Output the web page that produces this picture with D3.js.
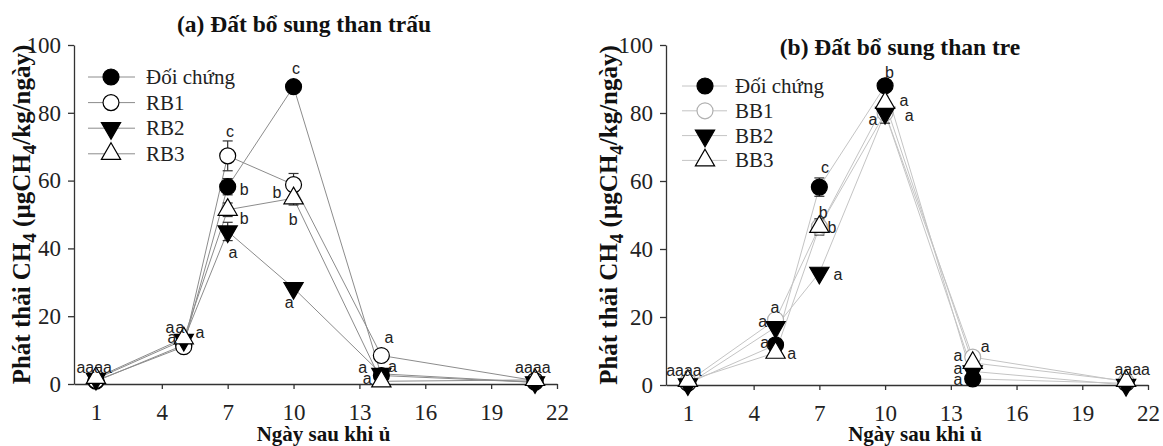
<!DOCTYPE html>
<meta charset="utf-8">
<script src="https://d3js.org/d3.v7.min.js"></script>
<style>
body {margin: 0; background: #fff;}
.axis path, .axis line {stroke: #333; stroke-width: 1.3;}
.title, .ylab, .xlab {font-family: "Liberation Serif", "Times New Roman", serif; font-weight: bold; fill: #111;}
.title {font-size: 23.5px;}
.xlab {font-size: 21px;}
.ylab {font-size: 25px;}
.legend text {font-family: "Liberation Serif", "Times New Roman", serif; font-size: 21px; fill: #222;}
.letter {font-family: "Liberation Sans", Arial, sans-serif; font-size: 16px; fill: #222; text-anchor: middle; dominant-baseline: central;}
</style>
<svg width="1163" height="446"></svg>
<script>
// ngày sau khi ủ
var days = [1, 5, 7, 10, 14, 21];
var xTicks = [1, 4, 7, 10, 13, 16, 19, 22];
var yTicks = [0, 20, 40, 60, 80, 100];

// (a) than trấu
var namesA = ["Đối chứng", "RB1", "RB2", "RB3"];
var dcA  = [0.8, 11.5, 58.2, 87.7, 2.5, 0.5];
var rb1  = [1.0, 11.0, 67.3, 58.8, 8.4, 1.0];
var rb2  = [1.5, 13.0, 45.0, 28.3, 3.0, 0.5];
var rb3  = [1.8, 13.5, 51.4, 54.8, 0.8, 1.2];
var dcAErr  = [0.3, 0.5, 2.4, 1.0, 0.3, 0.2];
var rb1Err  = [0.3, 0.8, 4.4, 3.3, 0.5, 0.2];
var rb2Err  = [0.2, 0.5, 2.7, 1.0, 0.3, 0.1];
var rb3Err  = [0.3, 0.5, 2.0, 2.0, 0.2, 0.2];
var lettersA = [
  {t: "aaaa", x: 0.92, y: 5},
  {t: "a", x: 4.37, y: 16.8}, {t: "a", x: 4.83, y: 16.8}, {t: "a", x: 4.46, y: 13.6}, {t: "a", x: 5.74, y: 15.3},
  {t: "c", x: 7.1, y: 74.6}, {t: "b", x: 7.75, y: 57.5}, {t: "b", x: 7.75, y: 48.7}, {t: "a", x: 7.24, y: 38.9},
  {t: "c", x: 10.11, y: 93.2}, {t: "b", x: 9.24, y: 56.6}, {t: "b", x: 9.99, y: 48.4}, {t: "a", x: 9.8, y: 23.9},
  {t: "a", x: 14.35, y: 13.6}, {t: "a", x: 13.15, y: 4.8}, {t: "a", x: 14.5, y: 5.1}, {t: "a", x: 13.35, y: 1.6},
  {t: "aaaa", x: 20.9, y: 5}
];

// (b) than tre
var namesB = ["Đối chứng", "BB1", "BB2", "BB3"];
var dcB  = [0.5, 11.8, 58.2, 88.0, 1.8, 0.5];
var bb1  = [1.0, 19.2, 46.5, 80.0, 8.2, 1.0];
var bb2  = [0.2, 17.0, 33.0, 80.0, 4.0, 0.0];
var bb3  = [1.2, 9.5, 46.5, 83.0, 6.5, 1.2];
var dcBErr  = [0.2, 1.0, 2.7, 0.8, 0.5, 0.2];
var bb1Err  = [0.3, 0.8, 2.0, 1.0, 0.5, 0.2];
var bb2Err  = [0.2, 0.8, 1.0, 3.0, 0.4, 0.1];
var bb3Err  = [0.3, 0.8, 2.4, 1.0, 0.5, 0.2];
var lettersB = [
  {t: "aaaa", x: 0.82, y: 4.4},
  {t: "a", x: 4.97, y: 22.9}, {t: "a", x: 4.41, y: 18.8}, {t: "a", x: 4.5, y: 12.6}, {t: "a", x: 5.74, y: 9.4},
  {t: "c", x: 7.26, y: 64}, {t: "b", x: 7.17, y: 50.6}, {t: "b", x: 7.58, y: 46.2}, {t: "a", x: 7.85, y: 32.6},
  {t: "b", x: 10.2, y: 92}, {t: "a", x: 10.86, y: 83.8}, {t: "a", x: 11.1, y: 79.4}, {t: "a", x: 9.45, y: 78.2},
  {t: "a", x: 14.57, y: 11.2}, {t: "a", x: 13.33, y: 8.8}, {t: "a", x: 13.33, y: 5}, {t: "a", x: 13.33, y: 1.5},
  {t: "aaaa", x: 21.28, y: 4.7}
];

var svg = d3.select("svg");

var symCircle = d3.symbol().type(d3.symbolCircle).size(200)();
var symTri = d3.symbol().type(d3.symbolTriangle).size(160)();
var markStyles = [
  {path: symCircle, fill: "#000", rot: 0},
  {path: symCircle, fill: "#fff", rot: 0},
  {path: symTri, fill: "#000", rot: 180},
  {path: symTri, fill: "#fff", rot: 0}
];

function styleTicks(sel) {
  sel.selectAll("text")
    .style("font-family", "'Liberation Serif', 'Times New Roman', serif")
    .style("font-size", "23px")
    .style("fill", "#222");
}

function drawPanel(p) {
  var x = d3.scaleLinear().domain([0, 22]).range([p.left, p.right]);
  var y = d3.scaleLinear().domain([0, 100]).range([p.bottom, p.top]);
  var g = svg.append("g");

  g.append("g").attr("class", "axis")
    .attr("transform", "translate(0," + p.bottom + ")")
    .call(d3.axisBottom(x).tickValues(xTicks).tickSize(5).tickSizeOuter(0).tickPadding(15))
    .call(styleTicks);
  g.append("g").attr("class", "axis")
    .attr("transform", "translate(" + p.left + ",0)")
    .call(d3.axisLeft(y).tickValues(yTicks).tickSize(6).tickSizeOuter(0).tickPadding(7))
    .call(styleTicks);

  var line = d3.line().x(function(d, i) { return x(days[i]); }).y(function(d) { return y(d); });
  g.selectAll(".series").data(p.series).enter().append("path")
    .attr("d", function(d) { return line(d); })
    .attr("fill", "none").attr("stroke", p.lineColor).attr("stroke-width", 1);

  // error bars
  p.series.forEach(function(s, k) {
    var eg = g.append("g").attr("stroke", "#333").attr("stroke-width", 1.2);
    s.forEach(function(v, i) {
      var e = p.errs[k][i];
      if (e < 1.5) return;
      var cx = x(days[i]);
      eg.append("line").attr("x1", cx).attr("x2", cx).attr("y1", y(v - e)).attr("y2", y(v + e));
      eg.append("line").attr("x1", cx - 5).attr("x2", cx + 5).attr("y1", y(v - e)).attr("y2", y(v - e));
      eg.append("line").attr("x1", cx - 5).attr("x2", cx + 5).attr("y1", y(v + e)).attr("y2", y(v + e));
    });
  });

  // markers
  p.series.forEach(function(s, k) {
    var st = markStyles[k];
    g.append("g").selectAll("path").data(s).enter().append("path")
      .attr("d", st.path)
      .attr("transform", function(d, i) { return "translate(" + x(days[i]) + "," + y(d) + ") rotate(" + st.rot + ")"; })
      .attr("fill", st.fill)
      .attr("stroke", k === 1 ? p.openStroke : "#000")
      .attr("stroke-width", 1.2);
  });

  // significance letters
  g.selectAll(".letter").data(p.letters).enter().append("text")
    .attr("class", "letter")
    .attr("x", function(d) { return x(d.x); })
    .attr("y", function(d) { return y(d.y); })
    .text(function(d) { return d.t; });

  // legend
  var lg = g.append("g").attr("class", "legend");
  p.names.forEach(function(n, k) {
    var ry = p.legY + k * p.legStep;
    var st = markStyles[k];
    lg.append("line").attr("x1", p.legX0).attr("x2", p.legX1).attr("y1", ry).attr("y2", ry)
      .attr("stroke", p.lineColor).attr("stroke-width", 1);
    lg.append("path").attr("d", st.path)
      .attr("transform", "translate(" + p.legM + "," + ry + ") rotate(" + st.rot + ")")
      .attr("fill", st.fill).attr("stroke", k === 1 ? p.openStroke : "#000").attr("stroke-width", 1.2);
    lg.append("text").attr("x", p.legT).attr("y", ry).attr("dominant-baseline", "central").text(n);
  });

  // titles
  g.append("text").attr("class", "title").attr("x", p.titleX).attr("y", p.titleY)
    .attr("text-anchor", "middle").text(p.title);
  g.append("text").attr("class", "xlab").attr("x", (p.left + p.right) / 2 + 8).attr("y", 441)
    .attr("text-anchor", "middle").text("Ngày sau khi ủ");
  var yl = g.append("text").attr("class", "ylab")
    .attr("transform", "translate(" + p.ylabX + "," + ((p.top + p.bottom) / 2) + ") rotate(-90)")
    .attr("text-anchor", "middle");
  yl.append("tspan").text("Phát thải CH");
  yl.append("tspan").attr("dy", 6).style("font-size", "19px").text("4");
  yl.append("tspan").attr("dy", -6).text(" (µgCH");
  yl.append("tspan").attr("dy", 6).style("font-size", "19px").text("4");
  yl.append("tspan").attr("dy", -6).text("/kg/ngày)");
}

drawPanel({
  left: 74, right: 557, top: 45, bottom: 384,
  series: [dcA, rb1, rb2, rb3], errs: [dcAErr, rb1Err, rb2Err, rb3Err],
  names: namesA, letters: lettersA,
  lineColor: "#8c8c8c", openStroke: "#000",
  legX0: 88, legX1: 135, legM: 111, legT: 146, legY: 77, legStep: 25.6,
  title: "(a) Đất bổ sung than trấu", titleX: 304, titleY: 32, ylabX: 30
});

drawPanel({
  left: 666, right: 1148, top: 45, bottom: 385,
  series: [dcB, bb1, bb2, bb3], errs: [dcBErr, bb1Err, bb2Err, bb3Err],
  names: namesB, letters: lettersB,
  lineColor: "#c4c4c4", openStroke: "#b0b0b0",
  legX0: 682, legX1: 727, legM: 705, legT: 735, legY: 86, legStep: 24.8,
  title: "(b) Đất bổ sung than tre", titleX: 900, titleY: 55, ylabX: 617
});
</script>
